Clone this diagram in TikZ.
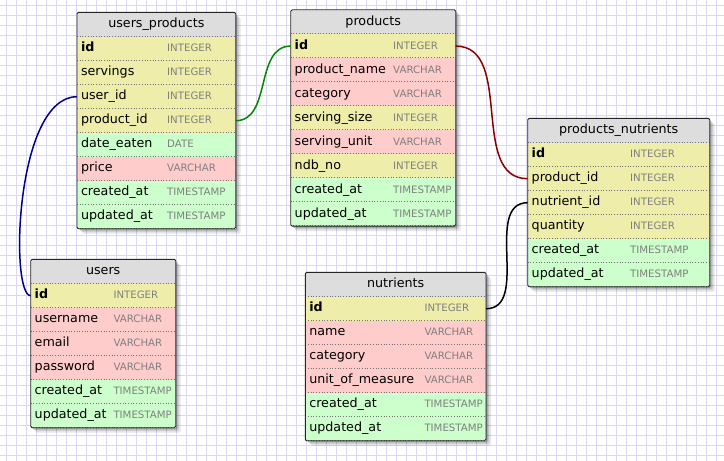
\documentclass[tikz,border=0pt]{standalone}
\usepackage{fontspec}
\setmainfont{DejaVu Sans}
\usetikzlibrary{positioning}
\usetikzlibrary{fit}
\usetikzlibrary{backgrounds}
\usetikzlibrary{shadows}

\definecolor{headgray}{RGB}{221,221,221}
\definecolor{keyyellow}{RGB}{238,238,170}
\definecolor{textpink}{RGB}{255,204,204}
\definecolor{timegreen}{RGB}{204,255,204}
\definecolor{typegray}{RGB}{128,128,128}
\definecolor{gridblue}{RGB}{218,216,242}
\definecolor{linkblue}{RGB}{0,0,140}
\definecolor{linkgreen}{RGB}{0,135,0}
\definecolor{linkred}{RGB}{135,0,0}

\begin{document}
\begin{tikzpicture}[x=1pt, y=-1pt,
			fieldnode/.style={inner xsep=4pt, inner ysep=0pt, outer sep=0pt, minimum height=24pt, text height=9.5pt, text depth=3pt, align=left, font=\fontsize{12.7}{14}\selectfont,
				path picture={\draw[sepline] ([yshift=0.5pt]path picture bounding box.south west) -- ([yshift=0.5pt]path picture bounding box.south east);}},
			headnode/.style={fieldnode, fill=headgray, minimum height=24.4pt, align=center},
			keyrow/.style={fieldnode, fill=keyyellow},
			textrow/.style={fieldnode, fill=textpink},
			timerow/.style={fieldnode, fill=timegreen},
			typetext/.style={anchor=base west, inner sep=0pt, text=typegray, font=\fontsize{10.2}{12}\selectfont},
			sepline/.style={draw=black!55, dotted, line width=0.7pt},
			tableframe/.style={draw=black!85, line width=0.9pt, rounded corners=1.5pt},
			shadowbox/.style={inner sep=0pt, rounded corners=1.5pt,
				drop shadow={shadow xshift=5pt, shadow yshift=-5pt, opacity=0.1, fill=black},
				drop shadow={shadow xshift=3pt, shadow yshift=-3pt, opacity=0.15, fill=black},
				drop shadow={shadow xshift=1.5pt, shadow yshift=-1.5pt, opacity=0.2, fill=black}},
			gridline/.style={draw=gridblue, line width=0.8pt},
			link/.style={line width=1.5pt},
			upw/.style={text width=150.7pt},
			prw/.style={text width=157pt},
			pnw/.style={text width=174pt},
			usw/.style={text width=137pt},
			nuw/.style={text width=172.7pt},
			]
			\useasboundingbox (0,0) rectangle (724,461);
			
			%users_products
			\node[headnode, upw, anchor=north west] (up) at (77,12.3) {users\_products};
			\node[keyrow, upw, below=0pt of up] (upid) {\textbf{id}};
			\node[keyrow, upw, below=0pt of upid] (upservings) {servings};
			\node[keyrow, upw, below=0pt of upservings] (upuser) {user\_id};
			\node[keyrow, upw, below=0pt of upuser] (upproduct) {product\_id};
			\node[timerow, upw, below=0pt of upproduct] (update) {date\_eaten};
			\node[textrow, upw, below=0pt of update] (upprice) {price};
			\node[timerow, upw, below=0pt of upprice] (upcreated) {created\_at};
			\node[timerow, upw, below=0pt of upcreated] (upupdated) {updated\_at};
			\node[typetext] (upidT) at ([xshift=90pt]upid.base west) {INTEGER};
			\node[typetext] (upservingsT) at ([xshift=90pt]upservings.base west) {INTEGER};
			\node[typetext] (upuserT) at ([xshift=90pt]upuser.base west) {INTEGER};
			\node[typetext] (upproductT) at ([xshift=90pt]upproduct.base west) {INTEGER};
			\node[typetext] (updateT) at ([xshift=90pt]update.base west) {DATE};
			\node[typetext] (uppriceT) at ([xshift=90pt]upprice.base west) {VARCHAR};
			\node[typetext] (upcreatedT) at ([xshift=90pt]upcreated.base west) {TIMESTAMP};
			\node[typetext] (upupdatedT) at ([xshift=90pt]upupdated.base west) {TIMESTAMP};
			\draw[tableframe] (up.north west) rectangle (upupdated.south east);
			
			%products
			\node[headnode, prw, anchor=north west] (pr) at (290.7,9.7) {products};
			\node[keyrow, prw, below=0pt of pr] (prid) {\textbf{id}};
			\node[textrow, prw, below=0pt of prid] (prname) {product\_name};
			\node[textrow, prw, below=0pt of prname] (prcategory) {category};
			\node[keyrow, prw, below=0pt of prcategory] (prsize) {serving\_size};
			\node[textrow, prw, below=0pt of prsize] (prunit) {serving\_unit};
			\node[keyrow, prw, below=0pt of prunit] (prndb) {ndb\_no};
			\node[timerow, prw, below=0pt of prndb] (prcreated) {created\_at};
			\node[timerow, prw, below=0pt of prcreated] (prupdated) {updated\_at};
			\node[typetext] (pridT) at ([xshift=102.3pt]prid.base west) {INTEGER};
			\node[typetext] (prnameT) at ([xshift=102.3pt]prname.base west) {VARCHAR};
			\node[typetext] (prcategoryT) at ([xshift=102.3pt]prcategory.base west) {VARCHAR};
			\node[typetext] (prsizeT) at ([xshift=102.3pt]prsize.base west) {INTEGER};
			\node[typetext] (prunitT) at ([xshift=102.3pt]prunit.base west) {VARCHAR};
			\node[typetext] (prndbT) at ([xshift=102.3pt]prndb.base west) {INTEGER};
			\node[typetext] (prcreatedT) at ([xshift=102.3pt]prcreated.base west) {TIMESTAMP};
			\node[typetext] (prupdatedT) at ([xshift=102.3pt]prupdated.base west) {TIMESTAMP};
			\draw[tableframe] (pr.north west) rectangle (prupdated.south east);
			
			%products_nutrients
			\node[headnode, pnw, anchor=north west] (pn) at (527.7,118.3) {products\_nutrients};
			\node[keyrow, pnw, below=0pt of pn] (pnid) {\textbf{id}};
			\node[keyrow, pnw, below=0pt of pnid] (pnproduct) {product\_id};
			\node[keyrow, pnw, below=0pt of pnproduct] (pnnutrient) {nutrient\_id};
			\node[keyrow, pnw, below=0pt of pnnutrient] (pnquantity) {quantity};
			\node[timerow, pnw, below=0pt of pnquantity] (pncreated) {created\_at};
			\node[timerow, pnw, below=0pt of pncreated] (pnupdated) {updated\_at};
			\node[typetext] (pnidT) at ([xshift=102.3pt]pnid.base west) {INTEGER};
			\node[typetext] (pnproductT) at ([xshift=102.3pt]pnproduct.base west) {INTEGER};
			\node[typetext] (pnnutrientT) at ([xshift=102.3pt]pnnutrient.base west) {INTEGER};
			\node[typetext] (pnquantityT) at ([xshift=102.3pt]pnquantity.base west) {INTEGER};
			\node[typetext] (pncreatedT) at ([xshift=102.3pt]pncreated.base west) {TIMESTAMP};
			\node[typetext] (pnupdatedT) at ([xshift=102.3pt]pnupdated.base west) {TIMESTAMP};
			\draw[tableframe] (pn.north west) rectangle (pnupdated.south east);
			
			%users
			\node[headnode, usw, anchor=north west] (us) at (30.7,259.3) {users};
			\node[keyrow, usw, below=0pt of us] (usid) {\textbf{id}};
			\node[textrow, usw, below=0pt of usid] (ususername) {username};
			\node[textrow, usw, below=0pt of ususername] (usemail) {email};
			\node[textrow, usw, below=0pt of usemail] (uspassword) {password};
			\node[timerow, usw, below=0pt of uspassword] (uscreated) {created\_at};
			\node[timerow, usw, below=0pt of uscreated] (usupdated) {updated\_at};
			\node[typetext] (usidT) at ([xshift=82.6pt]usid.base west) {INTEGER};
			\node[typetext] (ususernameT) at ([xshift=82.6pt]ususername.base west) {VARCHAR};
			\node[typetext] (usemailT) at ([xshift=82.6pt]usemail.base west) {VARCHAR};
			\node[typetext] (uspasswordT) at ([xshift=82.6pt]uspassword.base west) {VARCHAR};
			\node[typetext] (uscreatedT) at ([xshift=82.6pt]uscreated.base west) {TIMESTAMP};
			\node[typetext] (usupdatedT) at ([xshift=82.6pt]usupdated.base west) {TIMESTAMP};
			\draw[tableframe] (us.north west) rectangle (usupdated.south east);
			
			%nutrients
			\node[headnode, nuw, anchor=north west] (nu) at (305.3,272.3) {nutrients};
			\node[keyrow, nuw, below=0pt of nu] (nuid) {\textbf{id}};
			\node[textrow, nuw, below=0pt of nuid] (nuname) {name};
			\node[textrow, nuw, below=0pt of nuname] (nucategory) {category};
			\node[textrow, nuw, below=0pt of nucategory] (numeasure) {unit\_of\_measure};
			\node[timerow, nuw, below=0pt of numeasure] (nucreated) {created\_at};
			\node[timerow, nuw, below=0pt of nucreated] (nuupdated) {updated\_at};
			\node[typetext] (nuidT) at ([xshift=119pt]nuid.base west) {INTEGER};
			\node[typetext] (nunameT) at ([xshift=119pt]nuname.base west) {VARCHAR};
			\node[typetext] (nucategoryT) at ([xshift=119pt]nucategory.base west) {VARCHAR};
			\node[typetext] (numeasureT) at ([xshift=119pt]numeasure.base west) {VARCHAR};
			\node[typetext] (nucreatedT) at ([xshift=119pt]nucreated.base west) {TIMESTAMP};
			\node[typetext] (nuupdatedT) at ([xshift=119pt]nuupdated.base west) {TIMESTAMP};
			\draw[tableframe] (nu.north west) rectangle (nuupdated.south east);
			
			%Lines
			\draw[link, linkblue] (upuser.west) to[out=180, in=180, out distance=62pt, in distance=21pt] (usid.west);
			\draw[link, linkgreen] (upproduct.east) to[out=0, in=180] (prid.west);
			\draw[link, linkred] (prid.east) to[out=0, in=180] (pnproduct.west);
			\draw[link, black] (nuid.east) to[out=0, in=180] (pnnutrient.west);
			
			%Grid and shadows
			\begin{scope}[on background layer]
				\fill[white] (0,0) rectangle (724,461);
				\draw[gridline, step=10pt, shift={(6,5)}] (-10,-10) grid (720,460);
				\node[shadowbox, fit=(up)(upupdated)] (upshadow) {};
				\node[shadowbox, fit=(pr)(prupdated)] (prshadow) {};
				\node[shadowbox, fit=(pn)(pnupdated)] (pnshadow) {};
				\node[shadowbox, fit=(us)(usupdated)] (usshadow) {};
				\node[shadowbox, fit=(nu)(nuupdated)] (nushadow) {};
			\end{scope}
		\end{tikzpicture}
\end{document}
